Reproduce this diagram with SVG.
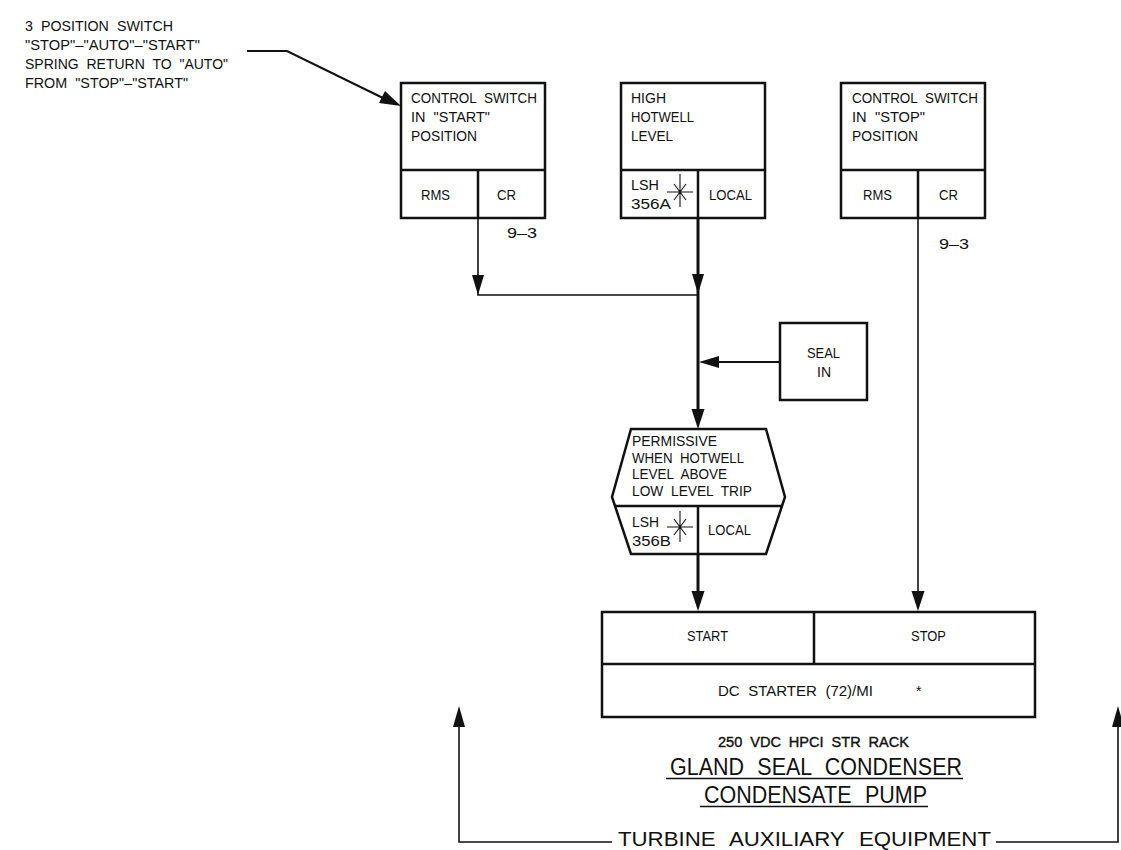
<svg xmlns="http://www.w3.org/2000/svg" width="1121" height="850" viewBox="0 0 1121 850">
<style>
text{font-family:"Liberation Sans",Arial,sans-serif;font-size:14px;fill:#111;stroke:none;word-spacing:4px}
.t{font-size:23px;word-spacing:8px}
.b{stroke:#111;stroke-width:.4px;font-size:15px}
.box{fill:none;stroke:#111;stroke-width:2.5}
.thin{fill:none;stroke:#111;stroke-width:1.6}
.thick{fill:none;stroke:#111;stroke-width:3}
.med{fill:none;stroke:#111;stroke-width:2}
.hair{fill:none;stroke:#111;stroke-width:1.1}
.head{fill:#111;stroke:none}
</style>
<rect width="1121" height="850" fill="#fff"/>
<g id="note">
<text x="25" y="31" textLength="148" lengthAdjust="spacingAndGlyphs">3 POSITION SWITCH</text>
<text x="25" y="50" textLength="175" lengthAdjust="spacingAndGlyphs">"STOP"–"AUTO"–"START"</text>
<text x="25" y="69" textLength="203" lengthAdjust="spacingAndGlyphs">SPRING RETURN TO "AUTO"</text>
<text x="25" y="88" textLength="163" lengthAdjust="spacingAndGlyphs">FROM "STOP"–"START"</text>
</g>
<g id="connectors">
<path class="med" d="M247 51H287L385 99"/>
<path class="head" d="M401 106L379 103L385 91Z"/>
<path class="thin" d="M478 218V295H698"/>
<path class="head" d="M472 275H484L478 295Z"/>
<path class="thick" d="M698 218V415"/>
<path class="head" d="M692 274H704L698 294Z"/>
<path class="head" d="M691.500 409H704.500L698 429Z"/>
<path class="med" d="M780 362H715"/>
<path class="head" d="M699 362L719 356V368Z"/>
<path class="thick" d="M698 554V596"/>
<path class="head" d="M691.500 591H704.500L698 611Z"/>
<path class="thin" d="M918 218V596"/>
<path class="head" d="M911.500 591H924.500L918 611Z"/>
<path class="thin" d="M459 724V842H612"/>
<path class="head" d="M459 706L465 727H453Z"/>
<path class="thin" d="M996 842H1118V724"/>
<path class="head" d="M1118 706L1124 727H1112Z"/>
</g>
<g id="start-switch">
<rect class="box" x="401" y="83" width="144" height="135"/>
<path class="box" d="M401 170H545M478 170V218"/>
<text x="411" y="103" textLength="126" lengthAdjust="spacingAndGlyphs">CONTROL SWITCH</text>
<text x="411" y="122" textLength="79" lengthAdjust="spacingAndGlyphs">IN "START"</text>
<text x="411" y="141" textLength="66" lengthAdjust="spacingAndGlyphs">POSITION</text>
<text x="421" y="200" textLength="29" lengthAdjust="spacingAndGlyphs">RMS</text>
<text x="497" y="200" textLength="19" lengthAdjust="spacingAndGlyphs">CR</text>
<text x="507" y="238" textLength="30" lengthAdjust="spacingAndGlyphs">9–3</text>
</g>
<g id="high-level">
<rect class="box" x="621" y="83" width="144" height="135"/>
<path class="box" d="M621 170H765M698 170V218"/>
<text x="631" y="103" textLength="35" lengthAdjust="spacingAndGlyphs">HIGH</text>
<text x="631" y="122" textLength="63" lengthAdjust="spacingAndGlyphs">HOTWELL</text>
<text x="631" y="141" textLength="42" lengthAdjust="spacingAndGlyphs">LEVEL</text>
<text x="631" y="190" textLength="28" lengthAdjust="spacingAndGlyphs">LSH</text>
<text x="631" y="209" textLength="40" lengthAdjust="spacingAndGlyphs">356A</text>
<path class="hair" d="M667 192H693M680 174V207M674 184L686 200M686 184L674 200"/>
<text x="709" y="200" textLength="43" lengthAdjust="spacingAndGlyphs">LOCAL</text>
</g>
<g id="stop-switch">
<rect class="box" x="841" y="83" width="144" height="135"/>
<path class="box" d="M841 170H985M918 170V218"/>
<text x="852" y="103" textLength="126" lengthAdjust="spacingAndGlyphs">CONTROL SWITCH</text>
<text x="852" y="122" textLength="73" lengthAdjust="spacingAndGlyphs">IN "STOP"</text>
<text x="852" y="141" textLength="66" lengthAdjust="spacingAndGlyphs">POSITION</text>
<text x="863" y="200" textLength="29" lengthAdjust="spacingAndGlyphs">RMS</text>
<text x="939" y="200" textLength="19" lengthAdjust="spacingAndGlyphs">CR</text>
<text x="939" y="249" textLength="30" lengthAdjust="spacingAndGlyphs">9–3</text>
</g>
<g id="seal-in">
<rect class="box" x="780" y="323" width="87" height="77"/>
<text x="807" y="358" textLength="33" lengthAdjust="spacingAndGlyphs">SEAL</text>
<text x="817" y="377" textLength="14" lengthAdjust="spacingAndGlyphs">IN</text>
</g>
<g id="permissive">
<path class="box" d="M631 429H766L785 497L766 554H631L612 497Z"/>
<path class="box" d="M615 506H782M698 506V554"/>
<text x="632" y="446" textLength="85" lengthAdjust="spacingAndGlyphs">PERMISSIVE</text>
<text x="632" y="463" textLength="112" lengthAdjust="spacingAndGlyphs">WHEN HOTWELL</text>
<text x="632" y="479" textLength="95" lengthAdjust="spacingAndGlyphs">LEVEL ABOVE</text>
<text x="632" y="496" textLength="120" lengthAdjust="spacingAndGlyphs">LOW LEVEL TRIP</text>
<text x="632" y="527" textLength="27" lengthAdjust="spacingAndGlyphs">LSH</text>
<text x="632" y="546" textLength="39" lengthAdjust="spacingAndGlyphs">356B</text>
<path class="hair" d="M667 527H693M680 511V542M674 519L686 535M686 519L674 535"/>
<text x="708" y="535" textLength="43" lengthAdjust="spacingAndGlyphs">LOCAL</text>
</g>
<g id="starter">
<rect class="box" x="602" y="612" width="433" height="105"/>
<path class="box" d="M602 664H1035M814 612V664"/>
<text x="687" y="641" textLength="41" lengthAdjust="spacingAndGlyphs">START</text>
<text x="911" y="641" textLength="35" lengthAdjust="spacingAndGlyphs">STOP</text>
<text x="718" y="696" textLength="155" lengthAdjust="spacingAndGlyphs">DC STARTER (72)/MI</text>
<text x="916" y="696">*</text>
</g>
<g id="titles">
<text class="b" x="718" y="747" textLength="191" lengthAdjust="spacingAndGlyphs">250 VDC HPCI STR RACK</text>
<text class="t" x="670" y="775" textLength="292" lengthAdjust="spacingAndGlyphs">GLAND SEAL CONDENSER</text>
<path class="thin" d="M666 778.500H963"/>
<text class="t" x="704" y="803" textLength="223" lengthAdjust="spacingAndGlyphs">CONDENSATE PUMP</text>
<path class="thin" d="M700 806.500H928"/>
<text class="t" x="618" y="846" textLength="373" lengthAdjust="spacingAndGlyphs" style="font-size:21px">TURBINE AUXILIARY EQUIPMENT</text>
</g>
</svg>
